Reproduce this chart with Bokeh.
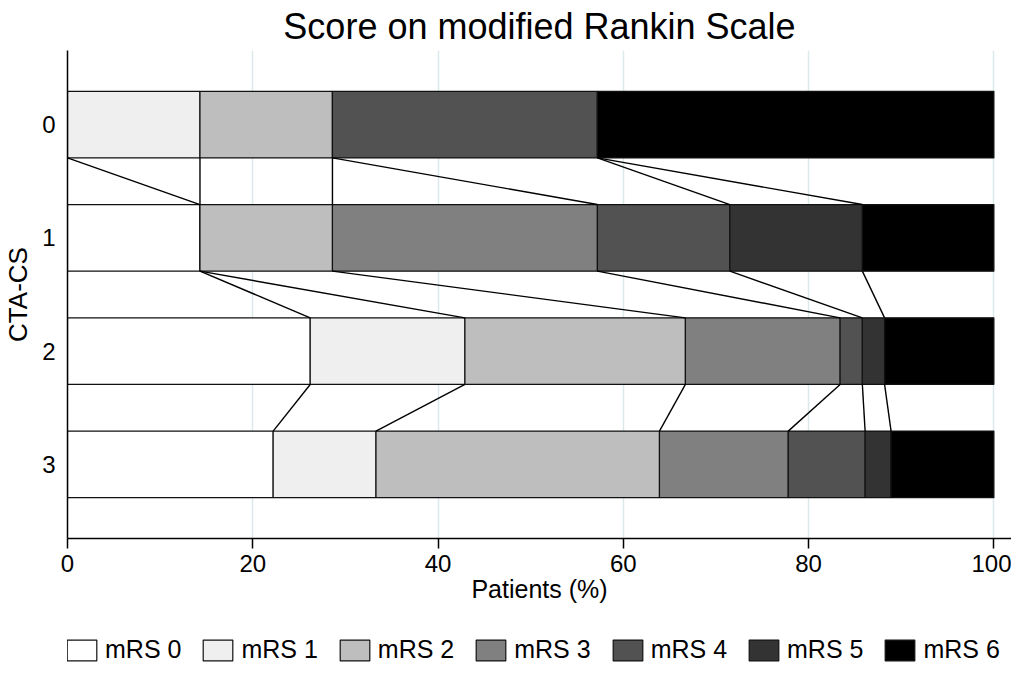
import numpy as np
from bokeh.plotting import figure
from bokeh.layouts import column
from bokeh.models import ColumnDataSource, Legend, LegendItem, FixedTicker, Range1d
from bokeh.embed import file_html
from bokeh.resources import INLINE

# ---- data (percent of patients per mRS score, per CTA-CS group) ----
groups = [0, 1, 2, 3]
categories = ["mRS 0", "mRS 1", "mRS 2", "mRS 3", "mRS 4", "mRS 5", "mRS 6"]
mrs0 = [0.0, 14.3, 26.2, 22.2]
mrs1 = [14.3, 0.0, 16.7, 11.1]
mrs2 = [14.3, 14.3, 23.8, 30.6]
mrs3 = [0.0, 28.6, 16.7, 13.9]
mrs4 = [28.6, 14.3, 2.4, 8.3]
mrs5 = [0.0, 14.3, 2.4, 2.8]
mrs6 = [42.8, 14.2, 11.8, 11.1]
x_ticks = [0, 20, 40, 60, 80, 100]

colors = ["#ffffff", "#efefef", "#bebebe", "#808080", "#525252", "#333333", "#000000"]
FONT = "Liberation Sans"
BAR_H = 0.588
OUTLINE = "#111111"

series = [mrs0, mrs1, mrs2, mrs3, mrs4, mrs5, mrs6]
keys = ["m0", "m1", "m2", "m3", "m4", "m5", "m6"]
src = ColumnDataSource(dict(group=groups, **{k: s for k, s in zip(keys, series)}))

p = figure(frame_width=944, frame_height=488, output_backend="svg", toolbar_location=None,
           x_range=Range1d(0, 101.9), y_range=Range1d(3.654, -0.654),
           min_border_left=59, min_border_right=0, min_border_top=38, min_border_bottom=80)
p.outline_line_color = None
p.background_fill_color = "white"
p.border_fill_color = "white"

p.title.text = "Score on modified Rankin Scale"
p.title.text_font = FONT
p.title.text_font_size = "36px"
p.title.text_font_style = "normal"
p.title.align = "center"
p.title.text_color = "black"
p.title.standoff = 7

renderers = p.hbar_stack(keys, y="group", height=BAR_H, source=src,
                         fill_color=colors, line_color=OUTLINE, line_width=1.2)

# connector lines between bars at each internal cumulative boundary
arr = np.array(series).T  # rows=groups, cols=categories
cum = np.cumsum(arr, axis=1)
x0, y0, x1, y1 = [], [], [], []
for i in range(len(groups) - 1):
    for k in range(len(categories) - 1):
        x0.append(cum[i, k]); y0.append(groups[i] + BAR_H / 2)
        x1.append(cum[i + 1, k]); y1.append(groups[i + 1] - BAR_H / 2)
p.segment(x0=x0, y0=y0, x1=x1, y1=y1, line_color="black", line_width=1.4)

# axes
p.xaxis.ticker = FixedTicker(ticks=x_ticks)
p.xaxis.axis_label = "Patients (%)"
p.yaxis.ticker = FixedTicker(ticks=groups)
p.yaxis.axis_label = "CTA-CS"
for ax in (p.xaxis[0], p.yaxis[0]):
    ax.axis_line_color = "black"
    ax.axis_line_width = 1.5
    ax.major_label_text_font = FONT
    ax.major_label_text_font_size = "24px"
    ax.major_label_text_color = "black"
    ax.axis_label_text_font = FONT
    ax.axis_label_text_font_style = "normal"
    ax.axis_label_text_color = "black"
    ax.minor_tick_line_color = None
p.xaxis.major_tick_out = 10
p.xaxis.major_tick_in = 0
p.xaxis.major_tick_line_width = 1.5
p.xaxis.major_tick_line_color = "black"
p.xaxis.major_label_standoff = 6
p.xaxis.axis_label_text_font_size = "25px"
p.xaxis.axis_label_standoff = 0
p.yaxis.major_tick_out = 0
p.yaxis.major_tick_in = 0
p.yaxis.major_label_standoff = 12
p.yaxis.axis_label_text_font_size = "26px"
p.yaxis.axis_label_standoff = 6

p.xgrid.grid_line_color = "#dce9eb"
p.xgrid.grid_line_width = 1.5
p.ygrid.grid_line_color = None

# ---- legend in its own strip below the chart ----
lg = figure(width=1005, height=60, output_backend="svg", toolbar_location=None,
            x_range=Range1d(0, 1), y_range=Range1d(0, 1),
            min_border_left=0, min_border_right=0, min_border_top=0, min_border_bottom=0)
lg.axis.visible = False
lg.grid.visible = False
lg.outline_line_color = None
lg.border_fill_color = "white"
items = []
for c, col in zip(categories, colors):
    # swatch-only renderers (hidden in the strip; the legend still draws their swatch)
    r = lg.hbar(y=[0.5], left=[0.2], right=[0.4], height=0.5, fill_color=col,
                line_color=OUTLINE, line_width=1.2, visible=False)
    items.append(LegendItem(label=c, renderers=[r]))
legend = Legend(items=items, orientation="horizontal", location=(-4, 14))
legend.glyph_width = 37
legend.glyph_height = 26
legend.label_standoff = 5
legend.spacing = 18
legend.padding = 0
legend.margin = 0
legend.border_line_color = None
legend.background_fill_alpha = 0
legend.inactive_fill_alpha = 0
legend.label_text_font = FONT
legend.label_text_font_size = "25px"
legend.label_text_color = "black"
legend.label_height = 26
lg.add_layout(legend, "center")

layout = column(p, lg, spacing=0)
open("out.html", "w").write(file_html(layout, INLINE))
